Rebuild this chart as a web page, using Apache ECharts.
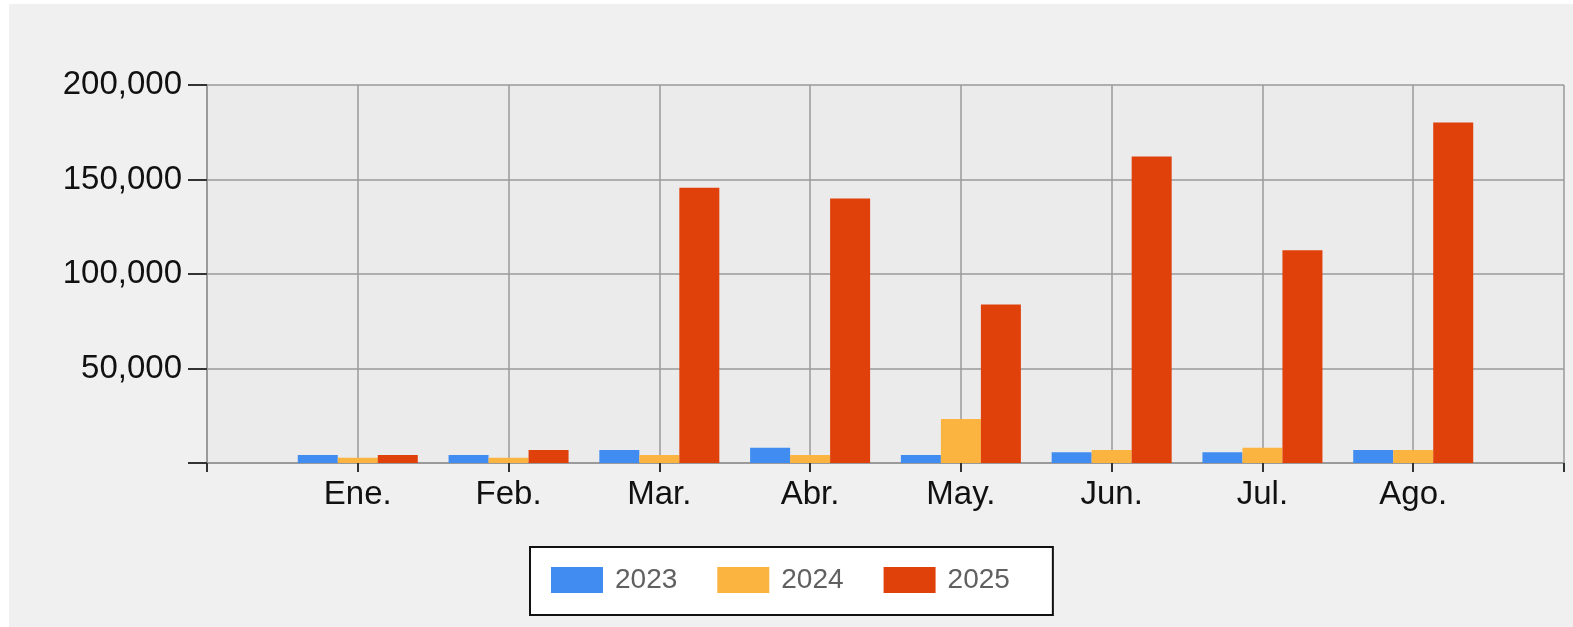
<!DOCTYPE html>
<html>
<head>
<meta charset="utf-8">
<script src="https://cdn.jsdelivr.net/npm/echarts@6/dist/echarts.min.js"></script>
<style>
html,body{margin:0;padding:0;background:#fff;}
#c{width:1573px;height:627px;}
</style>
</head>
<body>
<div id="c"></div>
<script>
var months = ['', 'Ene.', 'Feb.', 'Mar.', 'Abr.', 'May.', 'Jun.', 'Jul.', 'Ago.', ''];
var seriesNames = ['2023', '2024', '2025'];
var v2023 = [null, 4200, 4200, 6900, 8100, 4200, 5700, 5700, 6900, null];
var v2024 = [null, 2800, 2800, 4200, 4200, 23300, 6900, 8100, 6900, null];
var v2025 = [null, 4200, 6900, 145700, 140000, 83800, 162200, 112600, 180200, null];
var yTicks = [0, 50000, 100000, 150000, 200000];

var colors = ['#418CF0', '#FCB441', '#E0400A'];
var chart = echarts.init(document.getElementById('c'));
function fmt(v){ return v === 0 ? '' : v.toLocaleString('en-US'); }
var font = 'Liberation Sans, Arial, sans-serif';
chart.setOption({
  animation: false,
  backgroundColor: '#ffffff',
  graphic: [{
    type: 'rect', left: 9, top: 4, z: -100,
    shape: { width: 1564, height: 623 },
    style: { fill: '#f0f0f0' }
  }],
  grid: {
    left: 207, right: 9, top: 85, bottom: 164,
    show: true, backgroundColor: '#ebebeb', borderWidth: 0
  },
  legend: {
    data: seriesNames,
    left: 530, top: 547,
    orient: 'horizontal',
    backgroundColor: '#ffffff',
    borderColor: '#111',
    borderWidth: 2,
    borderRadius: 0,
    padding: [19, 43, 21, 21],
    itemWidth: 52, itemHeight: 26, itemGap: 40,
    icon: 'rect',
    textStyle: { fontFamily: font, fontSize: 28, color: '#606060', padding: [0, 0, 0, 7] }
  },
  xAxis: {
    type: 'category',
    data: months,
    boundaryGap: false,
    axisLine: { show: true, lineStyle: { color: '#9a9a9a', width: 2 } },
    axisTick: { show: true, length: 9, interval: 0, lineStyle: { color: '#333', width: 2 } },
    axisLabel: { interval: 0, fontFamily: font, fontSize: 33, color: '#111', margin: 15 },
    splitLine: { show: true, interval: 0, lineStyle: { color: '#9a9a9a', width: 1.5 } }
  },
  yAxis: {
    type: 'value',
    min: 0, max: yTicks[yTicks.length - 1], interval: yTicks[1] - yTicks[0],
    axisLine: { show: true, lineStyle: { color: '#9a9a9a', width: 2 } },
    axisTick: { show: true, length: 19, lineStyle: { color: '#333', width: 2 } },
    axisLabel: { formatter: fmt, fontFamily: font, fontSize: 33, color: '#111', margin: 25 },
    splitLine: { show: true, lineStyle: { color: '#9a9a9a', width: 1.5 } }
  },
  series: [
    { name: seriesNames[0], type: 'bar', data: v2023, barWidth: 40, barGap: '0%', itemStyle: { color: colors[0] } },
    { name: seriesNames[1], type: 'bar', data: v2024, barWidth: 40, barGap: '0%', itemStyle: { color: colors[1] } },
    { name: seriesNames[2], type: 'bar', data: v2025, barWidth: 40, barGap: '0%', itemStyle: { color: colors[2] } }
  ]
});
</script>
</body>
</html>
